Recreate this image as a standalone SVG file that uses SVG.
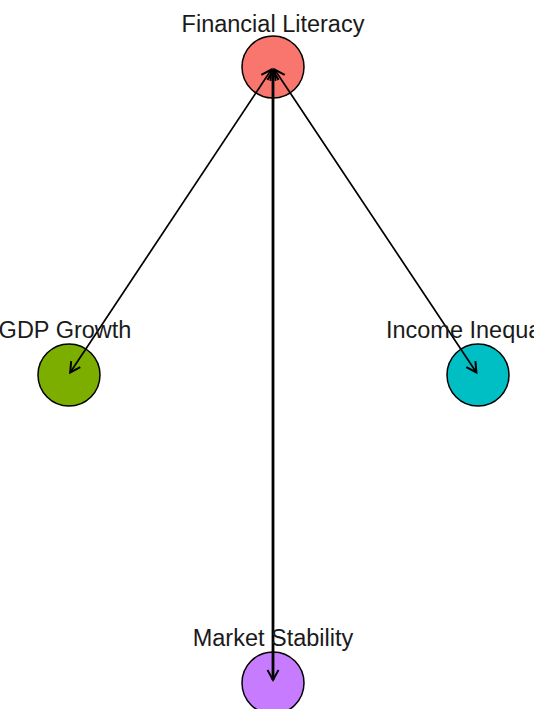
<svg xmlns="http://www.w3.org/2000/svg" width="534" height="709" viewBox="0 0 534 709">
<style>
.node circle{stroke:#000;stroke-width:1.5}
.lbl{font-family:"Liberation Sans",Arial,sans-serif;font-size:23.5px;fill:#1a1a1a;text-anchor:middle}
.edge{stroke:#000;stroke-width:1.7;fill:none;marker-start:url(#ah);marker-end:url(#ah)}
</style>
<defs>
<marker id="ah" markerUnits="userSpaceOnUse" markerWidth="14" markerHeight="14" viewBox="0 0 14 14" refX="11" refY="7" orient="auto-start-reverse">
<path d="M1,1.5 L11,7 L1,12.5" fill="none" stroke="#000" stroke-width="2"/>
</marker>
</defs>
<rect width="534" height="709" fill="#fff"/>
<g id="nodes">
<g id="node-financial-literacy" class="node"><circle cx="273" cy="67" r="31" fill="#F8766D"/></g>
<g id="node-gdp-growth" class="node"><circle cx="69" cy="375" r="31" fill="#7CAE00"/></g>
<g id="node-income-inequality" class="node"><circle cx="478" cy="375" r="31" fill="#00BFC4"/></g>
<g id="node-market-stability" class="node"><circle cx="273" cy="683" r="31" fill="#C77CFF"/></g>
</g>
<g id="connectors">
<line class="edge" x1="271.4" y1="69.5" x2="70.2" y2="372.5"/>
<line class="edge" x1="274.6" y1="69.5" x2="476.4" y2="372.5"/>
<line class="edge" x1="273" y1="70" x2="273" y2="680" style="stroke-width:2.8"/>
</g>
<g id="labels">
<text class="lbl" x="273" y="32">Financial Literacy</text>
<text class="lbl" x="65" y="338">GDP Growth</text>
<text class="lbl" x="478" y="338">Income Inequality</text>
<text class="lbl" x="273" y="646">Market Stability</text>
</g>
</svg>
